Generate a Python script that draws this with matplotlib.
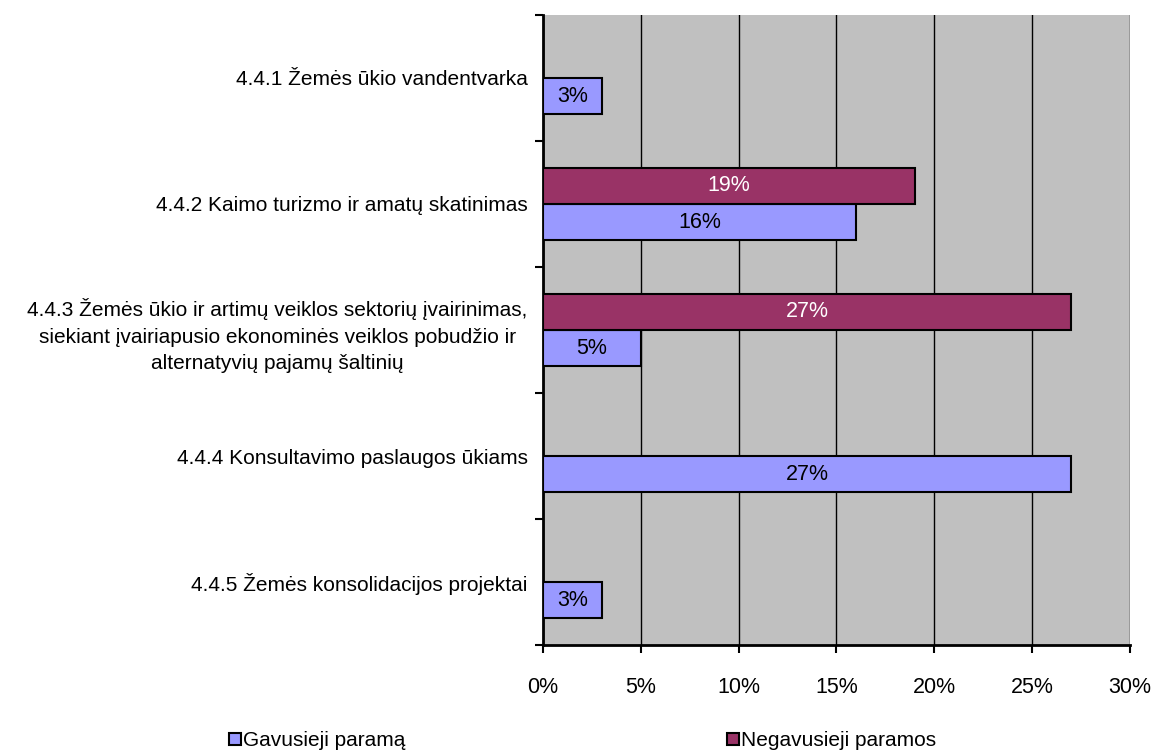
"""Parama pagal priemones: gavusieji ir negavusieji (horizontalios juostos)."""

import matplotlib.pyplot as plt
import numpy as np
from matplotlib.lines import Line2D
from matplotlib.ticker import FixedLocator, PercentFormatter

plt.rcParams["font.family"] = ["Liberation Sans", "DejaVu Sans"]

# duomenys
categories = [
    "4.4.1 Žemės ūkio vandentvarka",
    "4.4.2 Kaimo turizmo ir amatų skatinimas",
    "4.4.3 Žemės ūkio ir artimų veiklos sektorių įvairinimas,\n"
    "siekiant įvairiapusio ekonominės veiklos pobudžio ir\n"
    "alternatyvių pajamų šaltinių",
    "4.4.4 Konsultavimo paslaugos ūkiams",
    "4.4.5 Žemės konsolidacijos projektai",
]
gavusieji = [3, 16, 5, 27, 3]
negavusieji = [0, 19, 27, 0, 0]
series_names = ["Gavusieji paramą", "Negavusieji paramos"]
xticks = [0, 5, 10, 15, 20, 25, 30]

BLUE = "#9999FF"
PURPLE = "#993366"
GREY = "#C0C0C0"
FS = 15

fig = plt.figure(figsize=(11.56, 7.53), dpi=100)
ax = fig.add_axes([0.4697, 0.1434, 0.5078, 0.8367])
ax.set_facecolor(GREY)

y = np.arange(len(categories))
h = 0.286
b1 = ax.barh(y + h / 2, gavusieji, height=h, color=BLUE, edgecolor="black", linewidth=1.5, zorder=3)
b2 = ax.barh(y - h / 2, negavusieji, height=h, color=PURPLE, edgecolor="black", linewidth=1.5, zorder=3)

for rect, v in zip(b1, gavusieji):
    if v:
        ax.text(v / 2, rect.get_y() + rect.get_height() / 2, f"{v}%", ha="center", va="center",
                fontsize=FS + 0.5, color="black", zorder=4)
for rect, v in zip(b2, negavusieji):
    if v:
        ax.text(v / 2, rect.get_y() + rect.get_height() / 2, f"{v}%", ha="center", va="center",
                fontsize=FS + 0.5, color="white", zorder=4)

ax.set_xlim(0, 30)
ax.set_ylim(len(categories) - 0.5, -0.5)
ax.set_xticks(xticks)
ax.xaxis.set_major_formatter(PercentFormatter(decimals=0))
ax.grid(axis="x", color="black", linewidth=1.0, zorder=1)

ax.set_yticks(y)
ax.set_yticklabels(categories, fontsize=FS, ha="right", multialignment="center", linespacing=1.5)
ax.yaxis.set_minor_locator(FixedLocator(np.arange(len(categories) + 1) - 0.5))
ax.tick_params(axis="y", which="major", length=0, pad=11)
ax.tick_params(axis="y", which="minor", length=6, width=1.5, direction="out")
ax.tick_params(axis="x", labelsize=FS + 0.5, length=6, width=1.5, direction="out", pad=17)

for side in ("top", "right"):
    ax.spines[side].set_visible(False)
for side in ("left", "bottom"):
    ax.spines[side].set_linewidth(2)

handles = [
    Line2D([], [], marker="s", linestyle="none", markersize=8, markerfacecolor=c,
           markeredgecolor="black", markeredgewidth=1.5)
    for c in (BLUE, PURPLE)
]
fig.legend(handles, series_names, loc="center left", bbox_to_anchor=(0.187, 0.016), ncol=2,
           frameon=False, fontsize=FS, handletextpad=0.0, columnspacing=15.3, handlelength=0.8,
           borderpad=0.0)

fig.savefig("out.png", dpi=100)
